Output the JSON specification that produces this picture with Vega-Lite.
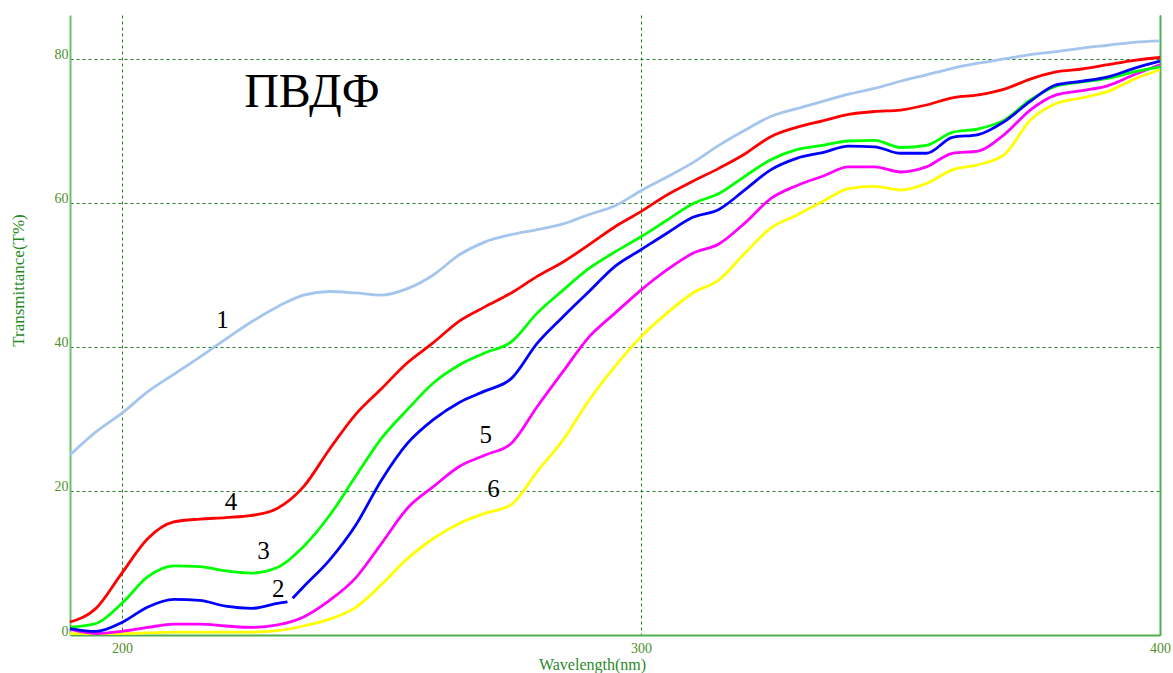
{
  "$schema": "https://vega.github.io/schema/vega-lite/v6.json",
  "width": 1090,
  "height": 620,
  "autosize": {"type": "none"},
  "padding": {"left": 70, "top": 15, "right": 13, "bottom": 38},
  "background": "white",
  "config": {"view": {"stroke": null}, "font": "Times New Roman, Liberation Serif, serif"},
  "datasets": {
    "curves": [
      {"nm":190,"T":25.0,"c":"1"},{"nm":195,"T":28.2,"c":"1"},{"nm":200,"T":30.8,"c":"1"},{"nm":205,"T":33.8,"c":"1"},{"nm":210,"T":36.2,"c":"1"},{"nm":215,"T":38.6,"c":"1"},{"nm":220,"T":41.1,"c":"1"},{"nm":225,"T":43.5,"c":"1"},{"nm":230,"T":45.6,"c":"1"},{"nm":235,"T":47.2,"c":"1"},{"nm":240,"T":47.7,"c":"1"},{"nm":245,"T":47.5,"c":"1"},{"nm":250,"T":47.2,"c":"1"},{"nm":255,"T":48.1,"c":"1"},{"nm":260,"T":50.0,"c":"1"},{"nm":265,"T":52.8,"c":"1"},{"nm":270,"T":54.6,"c":"1"},{"nm":275,"T":55.6,"c":"1"},{"nm":280,"T":56.3,"c":"1"},{"nm":285,"T":57.1,"c":"1"},{"nm":290,"T":58.4,"c":"1"},{"nm":295,"T":59.6,"c":"1"},{"nm":300,"T":61.7,"c":"1"},{"nm":305,"T":63.6,"c":"1"},{"nm":310,"T":65.6,"c":"1"},{"nm":315,"T":68.0,"c":"1"},{"nm":320,"T":70.1,"c":"1"},{"nm":325,"T":72.0,"c":"1"},{"nm":330,"T":73.1,"c":"1"},{"nm":335,"T":74.1,"c":"1"},{"nm":340,"T":75.1,"c":"1"},{"nm":345,"T":75.9,"c":"1"},{"nm":350,"T":76.9,"c":"1"},{"nm":355,"T":77.8,"c":"1"},{"nm":360,"T":78.7,"c":"1"},{"nm":365,"T":79.4,"c":"1"},{"nm":370,"T":80.0,"c":"1"},{"nm":375,"T":80.6,"c":"1"},{"nm":380,"T":81.0,"c":"1"},{"nm":385,"T":81.5,"c":"1"},{"nm":390,"T":81.9,"c":"1"},{"nm":395,"T":82.3,"c":"1"},{"nm":400,"T":82.5,"c":"1"},

      {"nm":190,"T":0.2,"c":"6"},{"nm":195,"T":0.2,"c":"6"},{"nm":200,"T":0.2,"c":"6"},{"nm":205,"T":0.3,"c":"6"},{"nm":210,"T":0.4,"c":"6"},{"nm":215,"T":0.4,"c":"6"},{"nm":220,"T":0.4,"c":"6"},{"nm":225,"T":0.4,"c":"6"},{"nm":230,"T":0.6,"c":"6"},{"nm":235,"T":1.25,"c":"6"},{"nm":240,"T":2.2,"c":"6"},{"nm":245,"T":3.8,"c":"6"},{"nm":250,"T":7.0,"c":"6"},{"nm":255,"T":10.6,"c":"6"},{"nm":260,"T":13.4,"c":"6"},{"nm":265,"T":15.5,"c":"6"},{"nm":270,"T":16.9,"c":"6"},{"nm":275,"T":18.1,"c":"6"},{"nm":280,"T":22.7,"c":"6"},{"nm":285,"T":27.1,"c":"6"},{"nm":290,"T":32.6,"c":"6"},{"nm":295,"T":37.3,"c":"6"},{"nm":300,"T":41.4,"c":"6"},{"nm":305,"T":44.7,"c":"6"},{"nm":310,"T":47.5,"c":"6"},{"nm":315,"T":49.3,"c":"6"},{"nm":320,"T":53.0,"c":"6"},{"nm":325,"T":56.5,"c":"6"},{"nm":330,"T":58.3,"c":"6"},{"nm":335,"T":60.2,"c":"6"},{"nm":340,"T":62.0,"c":"6"},{"nm":345,"T":62.3,"c":"6"},{"nm":350,"T":61.8,"c":"6"},{"nm":355,"T":62.7,"c":"6"},{"nm":360,"T":64.6,"c":"6"},{"nm":365,"T":65.3,"c":"6"},{"nm":370,"T":66.7,"c":"6"},{"nm":375,"T":71.5,"c":"6"},{"nm":380,"T":73.8,"c":"6"},{"nm":385,"T":74.6,"c":"6"},{"nm":390,"T":75.5,"c":"6"},{"nm":395,"T":77.2,"c":"6"},{"nm":400,"T":78.5,"c":"6"},

      {"nm":190,"T":0.8,"c":"5"},{"nm":195,"T":0.2,"c":"5"},{"nm":200,"T":0.5,"c":"5"},{"nm":205,"T":1.05,"c":"5"},{"nm":210,"T":1.5,"c":"5"},{"nm":215,"T":1.5,"c":"5"},{"nm":220,"T":1.25,"c":"5"},{"nm":225,"T":1.05,"c":"5"},{"nm":230,"T":1.4,"c":"5"},{"nm":235,"T":2.5,"c":"5"},{"nm":240,"T":4.8,"c":"5"},{"nm":245,"T":7.9,"c":"5"},{"nm":250,"T":12.7,"c":"5"},{"nm":255,"T":17.6,"c":"5"},{"nm":260,"T":20.6,"c":"5"},{"nm":265,"T":23.4,"c":"5"},{"nm":270,"T":25.0,"c":"5"},{"nm":275,"T":26.6,"c":"5"},{"nm":280,"T":31.7,"c":"5"},{"nm":285,"T":36.6,"c":"5"},{"nm":290,"T":41.4,"c":"5"},{"nm":295,"T":44.7,"c":"5"},{"nm":300,"T":47.9,"c":"5"},{"nm":305,"T":50.7,"c":"5"},{"nm":310,"T":53.0,"c":"5"},{"nm":315,"T":54.3,"c":"5"},{"nm":320,"T":57.2,"c":"5"},{"nm":325,"T":60.6,"c":"5"},{"nm":330,"T":62.4,"c":"5"},{"nm":335,"T":63.7,"c":"5"},{"nm":340,"T":65.0,"c":"5"},{"nm":345,"T":65.0,"c":"5"},{"nm":350,"T":64.3,"c":"5"},{"nm":355,"T":65.0,"c":"5"},{"nm":360,"T":66.9,"c":"5"},{"nm":365,"T":67.2,"c":"5"},{"nm":370,"T":69.5,"c":"5"},{"nm":375,"T":72.9,"c":"5"},{"nm":380,"T":75.0,"c":"5"},{"nm":385,"T":75.6,"c":"5"},{"nm":390,"T":76.3,"c":"5"},{"nm":395,"T":77.8,"c":"5"},{"nm":400,"T":79.2,"c":"5"},

      {"nm":190,"T":1.1,"c":"3"},{"nm":195,"T":1.6,"c":"3"},{"nm":200,"T":4.4,"c":"3"},{"nm":205,"T":8.1,"c":"3"},{"nm":210,"T":9.6,"c":"3"},{"nm":215,"T":9.5,"c":"3"},{"nm":220,"T":8.9,"c":"3"},{"nm":225,"T":8.6,"c":"3"},{"nm":230,"T":9.4,"c":"3"},{"nm":235,"T":12.3,"c":"3"},{"nm":240,"T":16.6,"c":"3"},{"nm":245,"T":22.0,"c":"3"},{"nm":250,"T":27.3,"c":"3"},{"nm":255,"T":31.3,"c":"3"},{"nm":260,"T":35.0,"c":"3"},{"nm":265,"T":37.5,"c":"3"},{"nm":270,"T":39.2,"c":"3"},{"nm":275,"T":40.7,"c":"3"},{"nm":280,"T":44.7,"c":"3"},{"nm":285,"T":47.9,"c":"3"},{"nm":290,"T":50.9,"c":"3"},{"nm":295,"T":53.2,"c":"3"},{"nm":300,"T":55.3,"c":"3"},{"nm":305,"T":57.6,"c":"3"},{"nm":310,"T":59.9,"c":"3"},{"nm":315,"T":61.3,"c":"3"},{"nm":320,"T":63.7,"c":"3"},{"nm":325,"T":66.0,"c":"3"},{"nm":330,"T":67.4,"c":"3"},{"nm":335,"T":68.0,"c":"3"},{"nm":340,"T":68.6,"c":"3"},{"nm":345,"T":68.7,"c":"3"},{"nm":350,"T":67.7,"c":"3"},{"nm":355,"T":68.0,"c":"3"},{"nm":360,"T":69.8,"c":"3"},{"nm":365,"T":70.3,"c":"3"},{"nm":370,"T":71.5,"c":"3"},{"nm":375,"T":74.3,"c":"3"},{"nm":380,"T":76.2,"c":"3"},{"nm":385,"T":76.8,"c":"3"},{"nm":390,"T":77.3,"c":"3"},{"nm":395,"T":78.2,"c":"3"},{"nm":400,"T":78.9,"c":"3"},

      {"nm":190,"T":0.9,"c":"2"},{"nm":195,"T":0.5,"c":"2"},{"nm":200,"T":1.75,"c":"2"},{"nm":205,"T":3.9,"c":"2"},{"nm":210,"T":4.95,"c":"2"},{"nm":215,"T":4.8,"c":"2"},{"nm":220,"T":4.0,"c":"2"},{"nm":225,"T":3.7,"c":"2"},{"nm":230,"T":4.4,"c":"2"},{"nm":231.9,"T":4.6,"c":"2"},{"nm":232.4,"T":null,"c":"2"},{"nm":232.9,"T":5.1,"c":"2"},{"nm":235,"T":6.7,"c":"2"},{"nm":240,"T":10.4,"c":"2"},{"nm":245,"T":15.2,"c":"2"},{"nm":250,"T":21.5,"c":"2"},{"nm":255,"T":26.6,"c":"2"},{"nm":260,"T":29.9,"c":"2"},{"nm":265,"T":32.3,"c":"2"},{"nm":270,"T":33.9,"c":"2"},{"nm":275,"T":35.6,"c":"2"},{"nm":280,"T":40.5,"c":"2"},{"nm":285,"T":44.2,"c":"2"},{"nm":290,"T":47.7,"c":"2"},{"nm":295,"T":51.2,"c":"2"},{"nm":300,"T":53.5,"c":"2"},{"nm":305,"T":55.8,"c":"2"},{"nm":310,"T":58.0,"c":"2"},{"nm":315,"T":59.1,"c":"2"},{"nm":320,"T":61.8,"c":"2"},{"nm":325,"T":64.6,"c":"2"},{"nm":330,"T":66.2,"c":"2"},{"nm":335,"T":67.0,"c":"2"},{"nm":340,"T":67.9,"c":"2"},{"nm":345,"T":67.8,"c":"2"},{"nm":350,"T":66.9,"c":"2"},{"nm":355,"T":66.9,"c":"2"},{"nm":360,"T":69.1,"c":"2"},{"nm":365,"T":69.5,"c":"2"},{"nm":370,"T":71.3,"c":"2"},{"nm":375,"T":74.1,"c":"2"},{"nm":380,"T":76.4,"c":"2"},{"nm":385,"T":76.9,"c":"2"},{"nm":390,"T":77.5,"c":"2"},{"nm":395,"T":78.7,"c":"2"},{"nm":400,"T":79.7,"c":"2"},

      {"nm":190,"T":1.8,"c":"4"},{"nm":195,"T":3.7,"c":"4"},{"nm":200,"T":8.6,"c":"4"},{"nm":205,"T":13.4,"c":"4"},{"nm":210,"T":15.7,"c":"4"},{"nm":215,"T":16.1,"c":"4"},{"nm":220,"T":16.3,"c":"4"},{"nm":225,"T":16.6,"c":"4"},{"nm":230,"T":17.6,"c":"4"},{"nm":235,"T":20.6,"c":"4"},{"nm":240,"T":25.8,"c":"4"},{"nm":245,"T":30.6,"c":"4"},{"nm":250,"T":34.2,"c":"4"},{"nm":255,"T":37.8,"c":"4"},{"nm":260,"T":40.6,"c":"4"},{"nm":265,"T":43.6,"c":"4"},{"nm":270,"T":45.6,"c":"4"},{"nm":275,"T":47.5,"c":"4"},{"nm":280,"T":49.8,"c":"4"},{"nm":285,"T":51.8,"c":"4"},{"nm":290,"T":54.2,"c":"4"},{"nm":295,"T":56.7,"c":"4"},{"nm":300,"T":58.8,"c":"4"},{"nm":305,"T":61.1,"c":"4"},{"nm":310,"T":63.0,"c":"4"},{"nm":315,"T":64.8,"c":"4"},{"nm":320,"T":66.8,"c":"4"},{"nm":325,"T":69.2,"c":"4"},{"nm":330,"T":70.5,"c":"4"},{"nm":335,"T":71.4,"c":"4"},{"nm":340,"T":72.3,"c":"4"},{"nm":345,"T":72.7,"c":"4"},{"nm":350,"T":72.9,"c":"4"},{"nm":355,"T":73.6,"c":"4"},{"nm":360,"T":74.6,"c":"4"},{"nm":365,"T":75.0,"c":"4"},{"nm":370,"T":75.8,"c":"4"},{"nm":375,"T":77.2,"c":"4"},{"nm":380,"T":78.2,"c":"4"},{"nm":385,"T":78.6,"c":"4"},{"nm":390,"T":79.2,"c":"4"},{"nm":395,"T":79.8,"c":"4"},{"nm":400,"T":80.2,"c":"4"}
    ],
    "numbers": [
      {"nm":219.4,"T":42.7,"t":"1"},
      {"nm":221.0,"T":17.4,"t":"4"},
      {"nm":227.3,"T":10.5,"t":"3"},
      {"nm":230.1,"T":5.3,"t":"2"},
      {"nm":270.1,"T":26.7,"t":"5"},
      {"nm":271.6,"T":19.1,"t":"6"}
    ],
    "title": [
      {"nm":236.6,"T":73.3,"t":"ПВДФ"}
    ]
  },
  "resolve": {"axis": {"y": "independent"}},
  "layer": [
    {
      "data": {"name": "curves"},
      "mark": {"type": "line", "strokeWidth": 2.8, "interpolate": "monotone", "invalid": "break-paths-filter-domains"},
      "encoding": {
        "x": {
          "field": "nm", "type": "quantitative",
          "scale": {"domain": [190, 400], "nice": false, "zero": false},
          "axis": {
            "values": [200, 300, 400],
            "title": "Wavelength(nm)",
            "titleFont": "Times New Roman, Liberation Serif, serif", "titleFontSize": 16, "titleFontWeight": "normal", "titleColor": "#2a8a2a",
            "titleX": 522, "titleY": 34, "titleBaseline": "alphabetic", "titleAlign": "center", "titleAnchor": null,
            "labelFont": "Times New Roman, Liberation Serif, serif", "labelFontSize": 14, "labelColor": "#4f8f2a", "labelPadding": 6, "labelFlush": false,
            "ticks": false,
            "domainColor": "#4caf50", "domainWidth": 2,
            "grid": true, "gridColor": "#1f7f1f", "gridDash": [3, 3], "gridWidth": 1
          }
        },
        "y": {
          "field": "T", "type": "quantitative",
          "scale": {"domain": [0, 86.1], "nice": false, "zero": false},
          "axis": {
            "orient": "left",
            "values": [0, 20, 40, 60, 80],
            "title": "Transmittance(T%)",
            "titleFont": "Times New Roman, Liberation Serif, serif", "titleFontSize": 17, "titleFontWeight": "normal", "titleColor": "#1e8a1e",
            "titleX": -47, "titleY": 265, "titleAngle": 270, "titleBaseline": "alphabetic", "titleAlign": "center", "titleAnchor": null,
            "labelFont": "Times New Roman, Liberation Serif, serif", "labelFontSize": 14, "labelColor": "#4f8f2a", "labelPadding": 2, "labelBaseline": "alphabetic",
            "ticks": false,
            "domainColor": "#6cbf6c", "domainWidth": 2,
            "grid": true, "gridColor": "#1f7f1f", "gridDash": [3, 3], "gridWidth": 1
          }
        },
        "color": {
          "field": "c", "type": "nominal",
          "scale": {"domain": ["1", "6", "5", "3", "2", "4"], "range": ["#a4c6ee", "#ffff00", "#ff00ff", "#00ff00", "#0000ff", "#ff0000"]},
          "legend": null
        }
      }
    },
    {
      "data": {"name": "numbers"},
      "mark": {"type": "text", "font": "Times New Roman, Liberation Serif, serif", "fontSize": 25, "baseline": "alphabetic", "align": "center", "color": "#000000"},
      "encoding": {
        "x": {"field": "nm", "type": "quantitative"},
        "y": {
          "field": "T", "type": "quantitative",
          "axis": {"orient": "right", "labels": false, "ticks": false, "grid": false, "title": null, "domainColor": "#4caf50", "domainWidth": 2}
        },
        "text": {"field": "t"}
      }
    },
    {
      "data": {"name": "title"},
      "mark": {"type": "text", "font": "Times New Roman, Liberation Serif, serif", "fontSize": 48, "baseline": "alphabetic", "align": "center", "color": "#000000"},
      "encoding": {
        "x": {"field": "nm", "type": "quantitative"},
        "y": {"field": "T", "type": "quantitative", "axis": null},
        "text": {"field": "t"}
      }
    }
  ]
}
